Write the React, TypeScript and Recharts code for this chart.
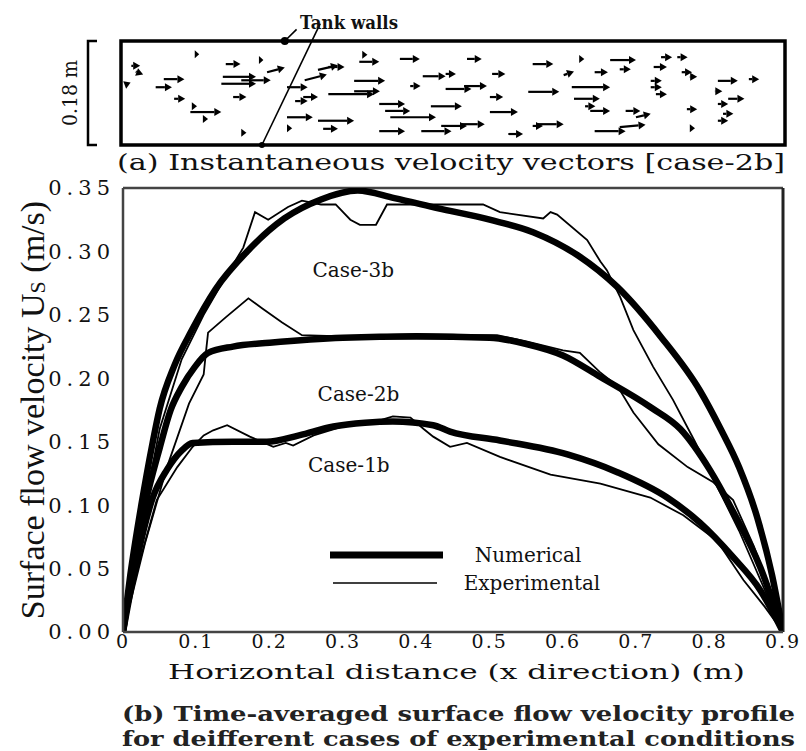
import React from 'react';
import {
  LineChart,
  Line,
  XAxis,
  YAxis,
  ScatterChart,
  Scatter,
  ReferenceArea,
  ReferenceLine,
  ReferenceDot,
} from 'recharts';

// (b) surface velocity profiles, [x (m), U (m/s)]
const num1b: [number, number][] = [
  [0, 0], [0.02, 0.06], [0.04, 0.105], [0.06, 0.128], [0.08, 0.143], [0.095, 0.149],
  [0.15, 0.15], [0.196, 0.15], [0.24, 0.155], [0.287, 0.162], [0.33, 0.165], [0.368, 0.166],
  [0.423, 0.163], [0.446, 0.158], [0.514, 0.151], [0.606, 0.14], [0.674, 0.126],
  [0.742, 0.106], [0.787, 0.086], [0.832, 0.059], [0.869, 0.033], [0.9, 0],
];
const num2b: [number, number][] = [
  [0, 0], [0.015, 0.055], [0.03, 0.1], [0.05, 0.145], [0.065, 0.175], [0.08, 0.193],
  [0.098, 0.209], [0.116, 0.22], [0.15, 0.225], [0.2, 0.228], [0.3, 0.232], [0.4, 0.233],
  [0.5, 0.232], [0.55, 0.227], [0.6, 0.218], [0.651, 0.201], [0.72, 0.177], [0.76, 0.16],
  [0.8, 0.128], [0.83, 0.097], [0.869, 0.051], [0.9, 0],
];
const num3b: [number, number][] = [
  [0, 0], [0.01, 0.045], [0.025, 0.1], [0.04, 0.148], [0.05, 0.176], [0.07, 0.21],
  [0.094, 0.238], [0.126, 0.27], [0.171, 0.301], [0.22, 0.326], [0.27, 0.341], [0.32, 0.348],
  [0.37, 0.342], [0.43, 0.334], [0.5, 0.325], [0.56, 0.315], [0.62, 0.297], [0.674, 0.272],
  [0.733, 0.233], [0.787, 0.19], [0.815, 0.16], [0.84, 0.13], [0.865, 0.09], [0.885, 0.045],
  [0.9, 0],
];
const exp1b: [number, number][] = [
  [0, 0], [0.02, 0.05], [0.046, 0.104], [0.074, 0.13], [0.095, 0.146], [0.11, 0.155],
  [0.123, 0.159], [0.142, 0.163], [0.173, 0.154], [0.205, 0.146], [0.222, 0.149],
  [0.232, 0.147], [0.26, 0.155], [0.3, 0.162], [0.34, 0.165], [0.368, 0.17], [0.392, 0.169],
  [0.41, 0.16], [0.423, 0.154], [0.446, 0.146], [0.469, 0.149], [0.514, 0.138],
  [0.583, 0.124], [0.651, 0.117], [0.719, 0.106], [0.764, 0.092], [0.81, 0.072],
  [0.846, 0.041], [0.875, 0.02], [0.9, 0],
];
const exp2b: [number, number][] = [
  [0, 0], [0.03, 0.07], [0.06, 0.13], [0.09, 0.18], [0.11, 0.203], [0.113, 0.22],
  [0.116, 0.236], [0.14, 0.248], [0.171, 0.263], [0.19, 0.255], [0.217, 0.244],
  [0.244, 0.234], [0.3, 0.233], [0.35, 0.234], [0.4, 0.235], [0.47, 0.234], [0.51, 0.234],
  [0.55, 0.229], [0.6, 0.222], [0.623, 0.22], [0.65, 0.205], [0.674, 0.194], [0.696, 0.173],
  [0.73, 0.148], [0.77, 0.13], [0.805, 0.118], [0.832, 0.104], [0.86, 0.068], [0.885, 0.03],
  [0.9, 0],
];
const exp3b: [number, number][] = [
  [0, 0], [0.02, 0.07], [0.05, 0.16], [0.08, 0.215], [0.11, 0.25], [0.14, 0.28],
  [0.164, 0.303], [0.18, 0.331], [0.198, 0.325], [0.225, 0.335], [0.244, 0.34],
  [0.27, 0.337], [0.29, 0.337], [0.31, 0.325], [0.323, 0.321], [0.345, 0.321], [0.36, 0.337],
  [0.4, 0.337], [0.45, 0.337], [0.491, 0.337], [0.514, 0.331], [0.573, 0.326],
  [0.583, 0.331], [0.592, 0.329], [0.633, 0.309], [0.651, 0.292], [0.66, 0.285],
  [0.678, 0.264], [0.696, 0.238], [0.723, 0.209], [0.75, 0.183], [0.78, 0.15],
  [0.81, 0.115], [0.84, 0.08], [0.87, 0.04], [0.9, 0],
];

const xTicks = [0, 0.1, 0.2, 0.3, 0.4, 0.5, 0.6, 0.7, 0.8, 0.9];
const yTicks = [0, 0.05, 0.1, 0.15, 0.2, 0.25, 0.3, 0.35];

// case labels, placed in data coordinates
const caseLabels: [string, number, number][] = [
  ['Case-3b', 0.314, 0.285],
  ['Case-2b', 0.321, 0.188],
  ['Case-1b', 0.308, 0.132],
];

// (a) instantaneous vectors: [x (m), y (m), u length (m), v rise (m)]
const vectors: [number, number, number, number][] = [
  [0.014, 0.137, 0.012, 0], [0.02, 0.127, 0.01, -0.005], [0.005, 0.104, 0.008, 0.004],
  [0.1, 0.157, 0.006, 0], [0.142, 0.14, 0.02, 0], [0.187, 0.147, 0.006, 0],
  [0.058, 0.114, 0.028, 0], [0.047, 0.1, 0.022, 0], [0.072, 0.08, 0.015, 0],
  [0.096, 0.067, 0.007, 0], [0.094, 0.057, 0.042, 0], [0.111, 0.045, 0.007, 0],
  [0.138, 0.118, 0.045, 0], [0.136, 0.106, 0.047, 0], [0.163, 0.112, 0.04, 0],
  [0.198, 0.126, 0.024, 0.008], [0.152, 0.083, 0.018, 0], [0.163, 0.021, 0.007, 0],
  [0.225, 0.1, 0.028, 0], [0.249, 0.112, 0.03, 0.01], [0.267, 0.13, 0.027, 0.008],
  [0.281, 0.135, 0.022, 0], [0.247, 0.083, 0.02, 0], [0.236, 0.076, 0.017, 0],
  [0.225, 0.048, 0.035, 0], [0.267, 0.042, 0.049, 0], [0.225, 0.029, 0.007, 0],
  [0.274, 0.028, 0.02, 0], [0.323, 0.144, 0.027, 0], [0.327, 0.156, 0.007, 0],
  [0.316, 0.111, 0.042, 0], [0.316, 0.093, 0.035, 0], [0.281, 0.088, 0.062, 0],
  [0.378, 0.149, 0.027, 0], [0.469, 0.149, 0.02, 0], [0.409, 0.119, 0.031, 0],
  [0.44, 0.123, 0.014, 0], [0.392, 0.102, 0.014, 0], [0.44, 0.097, 0.035, 0],
  [0.465, 0.102, 0.031, 0], [0.35, 0.071, 0.035, 0], [0.42, 0.067, 0.042, 0],
  [0.358, 0.059, 0.034, 0], [0.365, 0.048, 0.062, 0], [0.35, 0.024, 0.035, 0],
  [0.407, 0.024, 0.041, 0], [0.434, 0.033, 0.035, 0], [0.462, 0.036, 0.031, 0],
  [0.503, 0.123, 0.018, 0], [0.5, 0.083, 0.018, 0], [0.5, 0.057, 0.038, 0],
  [0.525, 0.019, 0.02, 0], [0.558, 0.14, 0.028, 0], [0.552, 0.092, 0.042, 0],
  [0.565, 0.036, 0.035, 0], [0.558, 0.033, 0.014, 0], [0.611, 0.1, 0.052, 0],
  [0.614, 0.08, 0.035, 0], [0.629, 0.067, 0.014, 0], [0.621, 0.149, 0.007, 0],
  [0.642, 0.126, 0.018, 0], [0.6, 0.121, 0.014, 0.006], [0.642, 0.024, 0.042, 0],
  [0.676, 0.031, 0.035, 0.004], [0.663, 0.147, 0.035, 0], [0.676, 0.131, 0.015, 0],
  [0.636, 0.059, 0.027, 0], [0.684, 0.059, 0.02, 0], [0.698, 0.048, 0.02, 0.006],
  [0.722, 0.135, 0.018, 0], [0.732, 0.152, 0.015, 0], [0.718, 0.111, 0.015, 0],
  [0.718, 0.1, 0.015, 0], [0.725, 0.088, 0.015, 0], [0.754, 0.152, 0.014, 0],
  [0.76, 0.126, 0.014, 0], [0.771, 0.118, 0.01, 0], [0.767, 0.062, 0.014, 0],
  [0.771, 0.029, 0.007, 0], [0.809, 0.111, 0.027, 0], [0.851, 0.114, 0.014, 0],
  [0.805, 0.093, 0.01, 0], [0.823, 0.08, 0.022, 0], [0.809, 0.071, 0.014, 0],
  [0.816, 0.054, 0.014, 0], [0.809, 0.042, 0.014, 0],
];

const pts = (arr: [number, number][]) => arr.map(([x, y]) => ({ x, y }));
const vecData = vectors.map(([x, y, u, v]) => ({ x, y, u, v }));

const SERIF = '"DejaVu Serif", serif';
const TIMES = '"Liberation Serif", serif';

// top panel plot box (px) -> used to turn vector lengths into pixels
const TOP_W = 664;
const TOP_H = 104;

const Arrow = (props: any) => {
  const { cx, cy, payload } = props;
  if (cx == null || cy == null) return null;
  const dx = (payload.u * TOP_W) / 0.9;
  const dy = -(payload.v * TOP_H) / 0.18;
  const len = Math.sqrt(dx * dx + dy * dy) || 1;
  const ux = dx / len;
  const uy = dy / len;
  const ex = cx + dx;
  const ey = cy + dy;
  const h = Math.min(7, len);
  const bx = ex - ux * h;
  const by = ey - uy * h;
  return (
    <g>
      {len > 7 && (
        <line x1={cx} y1={cy} x2={bx} y2={by} stroke="#000" strokeWidth={2.2} />
      )}
      <polygon
        points={`${ex},${ey} ${bx - uy * 4},${by + ux * 4} ${bx + uy * 4},${by - ux * 4}`}
        fill="#000"
      />
    </g>
  );
};

export default function App() {
  return (
    <div style={{ position: 'relative', width: 806, height: 751, background: '#fff' }}>
      <style>{'body{margin:0;background:#fff}'}</style>

      {/* (a) vector panel */}
      <div style={{ position: 'absolute', left: 0, top: 0 }}>
        <ScatterChart width={806} height={150} margin={{ top: 41, right: 21, bottom: 5, left: 121 }}>
          <XAxis type="number" dataKey="x" domain={[0, 0.9]} hide />
          <YAxis type="number" dataKey="y" domain={[0, 0.18]} hide />
          <ReferenceArea x1={0} x2={0.9} y1={0} y2={0.18} fill="none" stroke="#000" strokeWidth={3.5} />
          <ReferenceLine
            segment={[{ x: 0.27, y: 0.21 }, { x: 0.191, y: 0 }]}
            stroke="#000"
            strokeWidth={1.6}
            ifOverflow="visible"
          />
          <ReferenceLine
            segment={[{ x: 0.222, y: 0.18 }, { x: 0.238, y: 0.2 }]}
            stroke="#000"
            strokeWidth={1.6}
            ifOverflow="visible"
          />
          <ReferenceDot x={0.222} y={0.18} r={4} fill="#000" stroke="none" ifOverflow="visible" />
          <ReferenceDot x={0.191} y={0} r={3} fill="#000" stroke="none" ifOverflow="visible" />
          <Scatter data={vecData} shape={<Arrow />} isAnimationActive={false} />
        </ScatterChart>
      </div>

      {/* (b) velocity profiles */}
      <div style={{ position: 'absolute', left: 0, top: 0 }}>
        <LineChart width={806} height={700} margin={{ top: 188, right: 23, bottom: 38, left: 10 }}>
          <XAxis
            type="number"
            dataKey="x"
            domain={[0, 0.9]}
            ticks={xTicks}
            height={30}
            tickSize={3}
            tickMargin={0}
            tickFormatter={(v: number) => (v === 0 ? '0' : v.toFixed(1))}
            tickLine={false}
            axisLine={{ stroke: '#444', strokeWidth: 2.5 }}
            tick={{ fontFamily: SERIF, fontSize: 19, fill: '#111', letterSpacing: 2 }}
            interval={0}
            allowDataOverflow
          />
          <YAxis
            type="number"
            domain={[0, 0.35]}
            ticks={yTicks}
            width={113}
            tickFormatter={(v: number) => v.toFixed(2)}
            tickLine={false}
            axisLine={{ stroke: '#444', strokeWidth: 2.5 }}
            tick={{ fontFamily: SERIF, fontSize: 21, fill: '#111', letterSpacing: 5 }}
            interval={0}
            allowDataOverflow
          />
          <ReferenceLine y={0.35} stroke="#444" strokeWidth={2.5} />
          <ReferenceLine x={0.9} stroke="#222" strokeWidth={3} />
          {caseLabels.map(([name, x, y]) => (
            <ReferenceDot
              key={name}
              x={x}
              y={y}
              r={0}
              stroke="none"
              label={(p: any) => (
                <text
                  x={p.viewBox.x}
                  y={p.viewBox.y + 7}
                  textAnchor="middle"
                  fontFamily={SERIF}
                  fontSize={20}
                  fill="#111"
                >
                  {name}
                </text>
              )}
            />
          ))}
          <Line data={pts(exp1b)} dataKey="y" type="linear" stroke="#000" strokeWidth={1.8} dot={false} isAnimationActive={false} />
          <Line data={pts(exp2b)} dataKey="y" type="linear" stroke="#000" strokeWidth={1.8} dot={false} isAnimationActive={false} />
          <Line data={pts(exp3b)} dataKey="y" type="linear" stroke="#000" strokeWidth={1.8} dot={false} isAnimationActive={false} />
          <Line data={pts(num1b)} dataKey="y" type="monotone" stroke="#000" strokeWidth={6.5} dot={false} isAnimationActive={false} />
          <Line data={pts(num2b)} dataKey="y" type="monotone" stroke="#000" strokeWidth={6.5} dot={false} isAnimationActive={false} />
          <Line data={pts(num3b)} dataKey="y" type="monotone" stroke="#000" strokeWidth={6.5} dot={false} isAnimationActive={false} />
        </LineChart>
      </div>

      {/* legend, labels and captions */}
      <svg
        width={806}
        height={751}
        style={{ position: 'absolute', left: 0, top: 0, pointerEvents: 'none' }}
      >
        <g transform="translate(330 540)">
          <line x1={0} y1={15} x2={113} y2={15} stroke="#000" strokeWidth={7} />
          <line x1={3} y1={43} x2={107} y2={43} stroke="#000" strokeWidth={1.5} />
          <text x={198} y={22} textAnchor="middle" fontFamily={SERIF} fontSize={20} fill="#111">
            Numerical
          </text>
          <text x={202} y={50} textAnchor="middle" fontFamily={SERIF} fontSize={20} fill="#111">
            Experimental
          </text>
        </g>
        <path d="M97 41 H88 V145 H97" fill="none" stroke="#000" strokeWidth={2.5} />
        <text
          x={70}
          y={93}
          transform="rotate(-90 70 93)"
          textAnchor="middle"
          dominantBaseline="central"
          fontFamily={SERIF}
          fontSize={20}
          fill="#111"
          textLength={66}
          lengthAdjust="spacingAndGlyphs"
        >
          0.18 m
        </text>
        <text x={300} y={29} fontFamily={SERIF} fontSize={18} fontWeight="bold" fill="#111" textLength={98} lengthAdjust="spacingAndGlyphs">
          Tank walls
        </text>
        <text x={117} y={170} fontFamily={SERIF} fontSize={22} fill="#111" textLength={668} lengthAdjust="spacingAndGlyphs">
          (a) Instantaneous velocity vectors [case-2b]
        </text>
        <text
          x={32}
          y={410}
          transform="rotate(-90 32 410)"
          textAnchor="middle"
          dominantBaseline="central"
          fontFamily={TIMES}
          fontSize={34}
          fill="#111"
        >
          Surface flow velocity U
          <tspan fontSize={22} dy={5}>S</tspan>
          <tspan dy={-5}> (m/s)</tspan>
        </text>
        <text x={168} y={679} fontFamily={SERIF} fontSize={21} fill="#111" textLength={577} lengthAdjust="spacingAndGlyphs">
          Horizontal distance (x direction) (m)
        </text>
        <text x={122} y={721} fontFamily={SERIF} fontSize={21} fontWeight="bold" fill="#222" textLength={673} lengthAdjust="spacingAndGlyphs">
          (b) Time-averaged surface flow velocity profile
        </text>
        <text x={122} y={746} fontFamily={SERIF} fontSize={21} fontWeight="bold" fill="#222" textLength={673} lengthAdjust="spacingAndGlyphs">
          for deifferent cases of experimental conditions
        </text>
      </svg>
    </div>
  );
}
